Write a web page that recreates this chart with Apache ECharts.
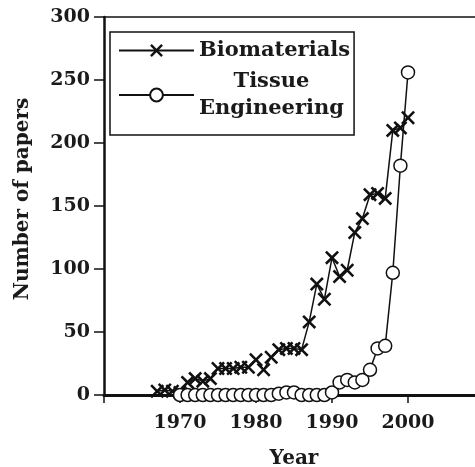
<!DOCTYPE html>
<html>
<head>
<meta charset="utf-8">
<script src="https://cdn.jsdelivr.net/npm/echarts@6/dist/echarts.min.js"></script>
<style>
html,body{margin:0;padding:0;background:#fff;}
#chart{width:475px;height:467px;}
</style>
</head>
<body>
<div id="chart"></div>
<script>
// Data
const bioYears = [1967,1968,1969,1970,1971,1972,1973,1974,1975,1976,1977,1978,1979,1980,1981,1982,1983,1984,1985,1986,1987,1988,1989,1990,1991,1992,1993,1994,1995,1996,1997,1998,1999,2000];
const bioValues = [3,4,3,2,10,13,11,13,21,21,21,22,22,28,20,30,36,37,37,36,58,88,76,109,94,99,129,140,159,160,156,210,212,220];
const teYears = [1970,1971,1972,1973,1974,1975,1976,1977,1978,1979,1980,1981,1982,1983,1984,1985,1986,1987,1988,1989,1990,1991,1992,1993,1994,1995,1996,1997,1998,1999,2000];
const teValues = [0,0,0,0,0,0,0,0,0,0,0,0,0,1,2,2,0,0,0,0,2,10,12,10,12,20,37,39,97,182,256];
const xTicks = [1970,1980,1990,2000];
const yTicks = [0,50,100,150,200,250,300];
const seriesNames = ['Biomaterials','Tissue Engineering'];

const FONT = 'DejaVu Serif';
const crossPath = 'path://M0,1.3L1.3,0L5,3.7L8.7,0L10,1.3L6.3,5L10,8.7L8.7,10L5,6.3L1.3,10L0,8.7L3.7,5Z';

const chart = echarts.init(document.getElementById('chart'), null, {renderer:'canvas'});
const option = {
  animation: false,
  backgroundColor: '#fff',
  grid: {left: 104, top: 17, width: 380, height: 378, containLabel: false, outerBoundsMode: 'none'},
  legend: {
    orient: 'vertical',
    left: 110, top: 32,
    padding: [8, 4, 16, 8],
    itemGap: 10,
    itemWidth: 75,
    itemHeight: 16,
    borderColor: '#111',
    borderWidth: 1.5,
    borderRadius: 0,
    backgroundColor: '#fff',
    data: seriesNames,
    formatter: function(name){
      if (name === 'Tissue Engineering') return '{c|Tissue}\n{c|Engineering}';
      return '{c|' + name + '}';
    },
    textStyle: {
      fontFamily: FONT, fontWeight: 'bold', fontSize: 21, color: '#1a1a1a',
      rich: { c: {fontFamily: FONT, fontWeight: 'bold', fontSize: 21, color: '#1a1a1a', align: 'center', lineHeight: 27} }
    }
  },
  xAxis: [{
    type: 'value', min: 1960, max: 2010, interval: 10,
    name: 'Year', nameLocation: 'middle', nameGap: 54,
    nameTextStyle: {fontFamily: FONT, fontWeight: 'bold', fontSize: 20, color: '#1a1a1a'},
    axisLine: {show: true, onZero: false, lineStyle: {color: '#111', width: 3}},
    axisTick: {show: true, inside: false, length: 8, lineStyle: {color: '#111', width: 1.5}},
    axisLabel: {
      margin: 19, fontFamily: FONT, fontWeight: 'bold', fontSize: 19, color: '#1a1a1a',
      formatter: function(v){ return xTicks.indexOf(v) >= 0 ? String(v) : ''; }
    },
    splitLine: {show: false}
  },{
    type: 'value', min: 1960, max: 2010, position: 'top',
    axisLine: {show: true, onZero: false, lineStyle: {color: '#111', width: 1.5}},
    axisTick: {show: false}, axisLabel: {show: false}, splitLine: {show: false}
  }],
  yAxis: {
    type: 'value', min: 0, max: 300, interval: 50,
    name: 'Number of papers', nameLocation: 'middle', nameGap: 71, nameRotate: 90,
    nameTextStyle: {fontFamily: FONT, fontWeight: 'bold', fontSize: 20, color: '#1a1a1a', padding: [0, 0, 0, 14]},
    axisLine: {show: true, lineStyle: {color: '#111', width: 2.5}},
    axisTick: {show: true, inside: false, length: 10, lineStyle: {color: '#111', width: 1.5}},
    axisLabel: {
      margin: 14, fontFamily: FONT, fontWeight: 'bold', fontSize: 19, color: '#1a1a1a',
      formatter: function(v){ return yTicks.indexOf(v) >= 0 ? String(v) : ''; }
    },
    splitLine: {show: false}
  },
  series: [{
    name: seriesNames[0], type: 'line', xAxisIndex: 0,
    data: bioYears.map((y,i)=>[y, bioValues[i]]),
    symbol: crossPath, symbolSize: 14, showAllSymbol: true, clip: false,
    lineStyle: {color: '#111', width: 1.5},
    itemStyle: {color: '#111'},
    z: 2
  },{
    name: seriesNames[1], type: 'line', xAxisIndex: 0,
    data: teYears.map((y,i)=>[y, teValues[i]]),
    symbol: 'circle', symbolSize: 13, showAllSymbol: true, clip: false,
    lineStyle: {color: '#111', width: 1.5},
    itemStyle: {color: '#fff', borderColor: '#111', borderWidth: 1.5},
    z: 3
  }]
};
chart.setOption(option);
</script>
</body>
</html>
